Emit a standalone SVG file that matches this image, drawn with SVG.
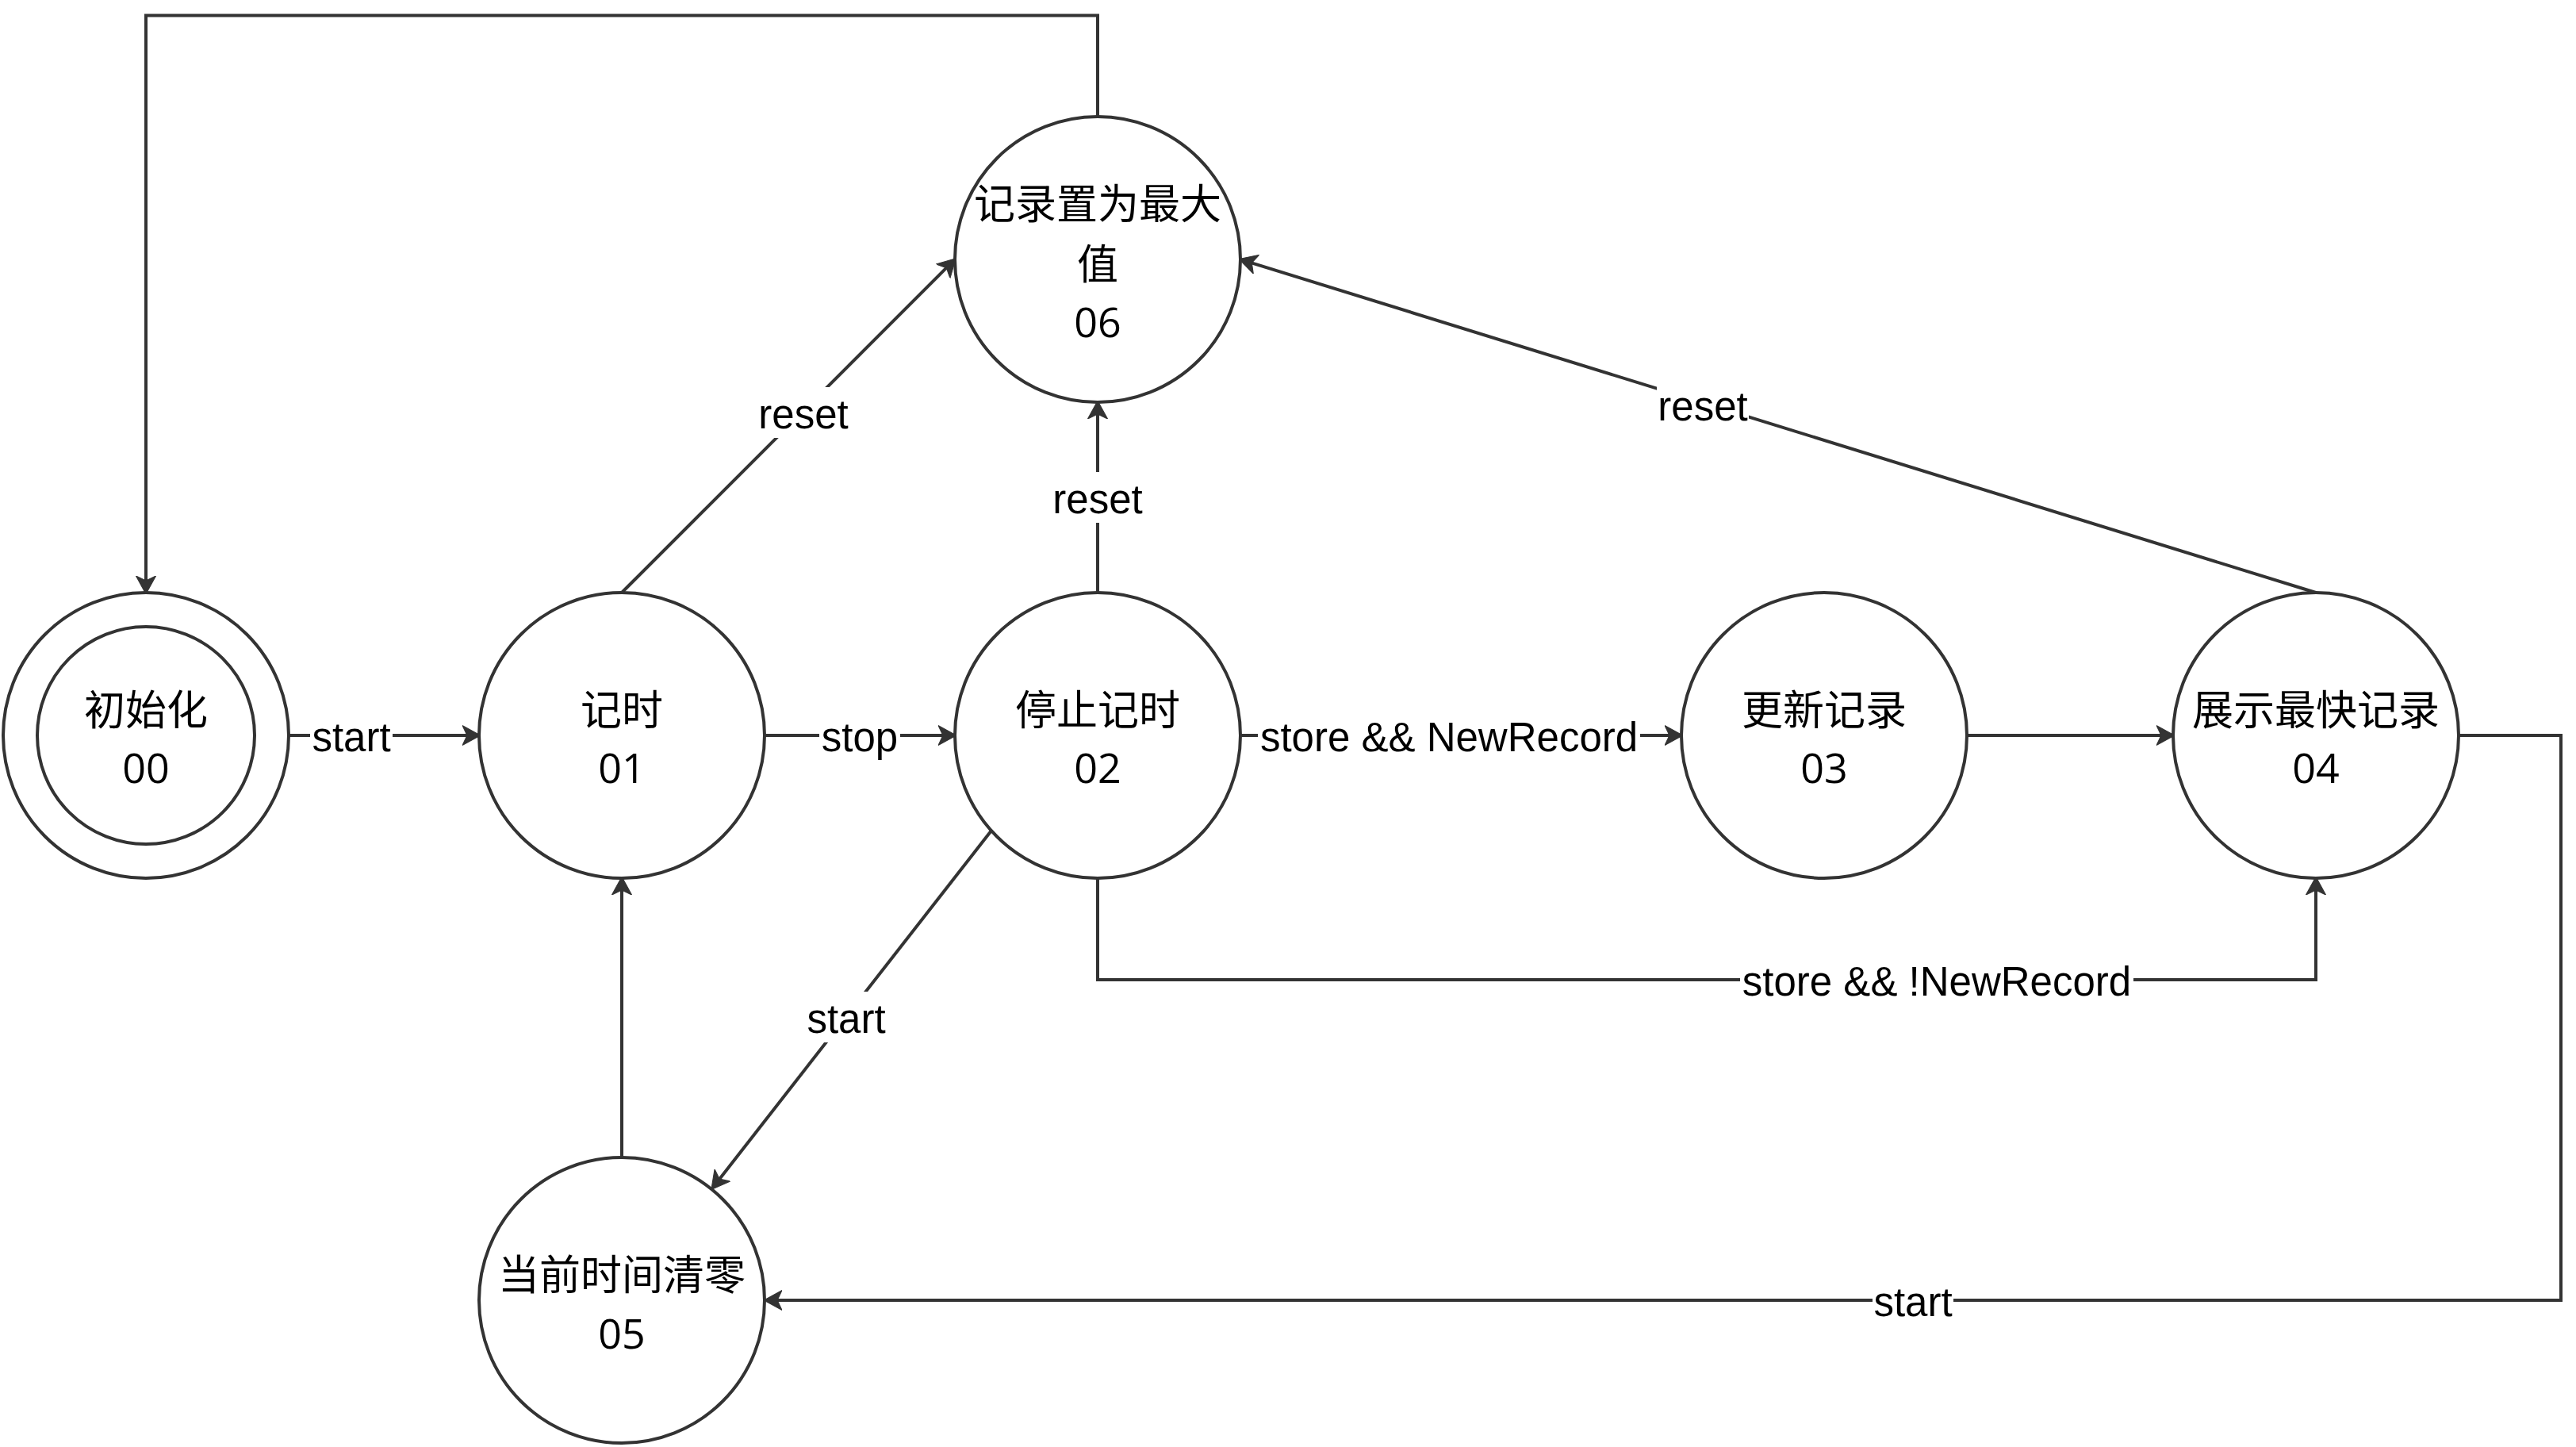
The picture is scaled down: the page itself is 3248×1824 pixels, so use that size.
<svg xmlns="http://www.w3.org/2000/svg" width="3248" height="1824" viewBox="0 0 3248 1824">
<style>
.st{fill:#ffffff;stroke:#333333;stroke-width:4}
.nt{font-family:"Open Sans","Noto Sans CJK SC",sans-serif;font-size:52px;fill:#000000;text-anchor:middle}
.ln{fill:none;stroke:#333333;stroke-width:4}
.ar{marker-end:url(#arr)}
.lb{font-family:"Liberation Sans",Arial,sans-serif;font-size:51px;fill:#000000;text-anchor:middle}
.bg{fill:#ffffff;stroke:none}
</style>
<defs>
<marker id="arr" markerUnits="userSpaceOnUse" markerWidth="24" markerHeight="26" viewBox="0 0 22 24" refX="12" refY="12" orient="auto">
<path d="M21,12 L0,0.5 L5.5,12 L0,23.5 Z" fill="#333333" stroke="#333333" stroke-width="1"/>
</marker>
</defs>
<rect x="0" y="0" width="3248" height="1824" fill="#ffffff"/>
<g id="connectors">
<path class="ln ar" d="M1384,147 V19.5 H184 V739"/>
<path class="ln ar" d="M364,927 H596"/>
<path class="ln ar" d="M964,927 H1196"/>
<path class="ln ar" d="M1564,927 H2112"/>
<path class="ln ar" d="M2481,927 H2732"/>
<path class="ln ar" d="M1384,1107 V1235 H2920 V1115"/>
<path class="ln ar" d="M3101,927 H3229 V1639 H973"/>
<path class="ln ar" d="M784,747 L1198.3,332.7"/>
<path class="ln ar" d="M1384,747 V515"/>
<path class="ln ar" d="M2920,747 L1571.6,329.4"/>
<path class="ln ar" d="M1250,1047 L902.9,1491.7"/>
<path class="ln ar" d="M784,1459 V1115"/>
<g id="labels">
<rect class="bg" x="391" y="896" width="104" height="62"/>
<text class="lb" x="443" y="947">start</text>
<rect class="bg" x="1033" y="896" width="102" height="62"/>
<text class="lb" x="1084" y="947">stop</text>
<rect class="bg" x="1586" y="896" width="482" height="62"/>
<text class="lb" x="1827" y="947">store &amp;&amp; NewRecord</text>
<rect class="bg" x="2194" y="1204" width="496" height="62"/>
<text class="lb" x="2442" y="1255">store &amp;&amp; !NewRecord</text>
<rect class="bg" x="2361" y="1608" width="102" height="62"/>
<text class="lb" x="2412" y="1659">start</text>
<rect class="bg" x="955" y="488" width="116" height="64"/>
<text class="lb" x="1013" y="540">reset</text>
<rect class="bg" x="1326" y="595" width="116" height="64"/>
<text class="lb" x="1384" y="647">reset</text>
<rect class="bg" x="2089" y="478" width="116" height="64"/>
<text class="lb" x="2147" y="530">reset</text>
<rect class="bg" x="1015" y="1250" width="104" height="64"/>
<text class="lb" x="1067" y="1302">start</text>
</g>
</g>
<g id="node00">
<circle class="st" cx="184" cy="927" r="180"/>
<circle class="st" cx="184" cy="927" r="137"/>
<text class="nt" x="184" y="914">初始化</text>
<text class="nt" x="184" y="987">00</text>
</g>
<g id="node01">
<circle class="st" cx="784" cy="927" r="180"/>
<text class="nt" x="784" y="914">记时</text>
<text class="nt" x="784" y="987">01</text>
</g>
<g id="node02">
<circle class="st" cx="1384" cy="927" r="180"/>
<text class="nt" x="1384" y="914">停止记时</text>
<text class="nt" x="1384" y="987">02</text>
</g>
<g id="node03">
<circle class="st" cx="2300" cy="927" r="180"/>
<text class="nt" x="2300" y="914">更新记录</text>
<text class="nt" x="2300" y="987">03</text>
</g>
<g id="node04">
<circle class="st" cx="2920" cy="927" r="180"/>
<text class="nt" x="2920" y="914">展示最快记录</text>
<text class="nt" x="2920" y="987">04</text>
</g>
<g id="node05">
<circle class="st" cx="784" cy="1639" r="180"/>
<text class="nt" x="784" y="1626">当前时间清零</text>
<text class="nt" x="784" y="1700">05</text>
</g>
<g id="node06">
<circle class="st" cx="1384" cy="327" r="180"/>
<text class="nt" x="1384" y="276">记录置为最大</text>
<text class="nt" x="1384" y="352">值</text>
<text class="nt" x="1384" y="425">06</text>
</g>
</svg>
